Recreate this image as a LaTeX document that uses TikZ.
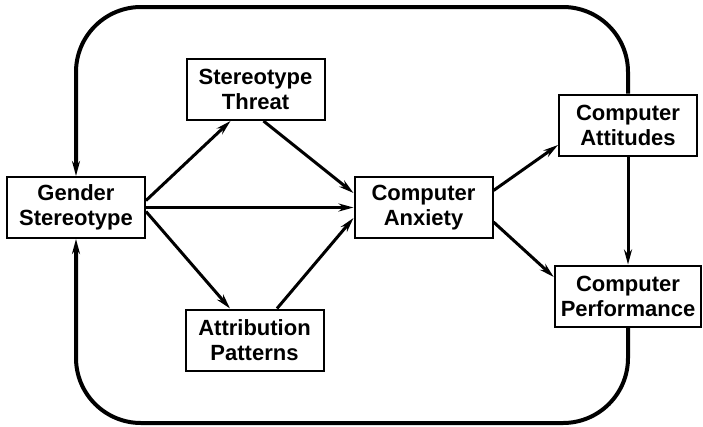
\documentclass[tikz,border=0pt]{standalone}
\usepackage{fontspec}
\setmainfont{Liberation Sans}
\usetikzlibrary{arrows.meta,positioning}
\tikzset{
     factor/.style={draw, line width=2pt, align=center,
        font=\bfseries\fontsize{22}{25}\selectfont,
        minimum width=138pt, minimum height=61pt, inner xsep=6pt},
      link/.style   = {line width=3pt, -{Stealth[length=15pt,width=8pt]}},
      feedback/.style = {line width=4pt, rounded corners=65pt,
        -{Stealth[length=15pt,width=8pt]}},
    }

\begin{document}
\begin{tikzpicture}[x=1pt,y=-1pt,on grid]
        \useasboundingbox (0,0) rectangle (703,426);
        \node [factor] (gender) at (76,207.5) {Gender\\Stereotype};
        \node [factor] (anxiety) [right=347.5pt of gender] {Computer\\Anxiety};
        \node [factor] (threat) [above right=118pt and 179.5pt of gender] {Stereotype\\Threat};
        \node [factor] (attrib) [below right=132.5pt and 178.5pt of gender] {Attribution\\Patterns};
        \node [factor] (attitudes) [above right=82.5pt and 204.5pt of anxiety] {Computer\\Attitudes};
        \node [factor] (perform) [below right=88.5pt and 204.5pt of anxiety] {Computer\\Performance};
        \path[link]
        ([yshift=7pt]gender.east) edge ([xshift=-25pt]threat.south)
        (gender.east) edge (anxiety.west)
        ([yshift=-4pt]gender.east) edge ([xshift=-24.5pt]attrib.north)
        ([xshift=8pt]threat.south) edge ([yshift=14.5pt]anxiety.west)
        ([xshift=22.5pt]attrib.north) edge ([yshift=-10.5pt]anxiety.west)
        ([yshift=17pt]anxiety.east) edge ([yshift=-20pt]attitudes.west)
        ([yshift=-14.5pt]anxiety.east) edge ([yshift=19pt]perform.west)
        (attitudes.south) edge (perform.north);
        % loop back to the stereotype
        \draw[feedback] (attitudes.north) -- (attitudes.north |- 0,7)
          -- (gender.north |- 0,7) -- (gender.north);
        \draw[feedback] (perform.south) -- (perform.south |- 0,423)
          -- (gender.south |- 0,423) -- (gender.south);
    \end{tikzpicture}
\end{document}
